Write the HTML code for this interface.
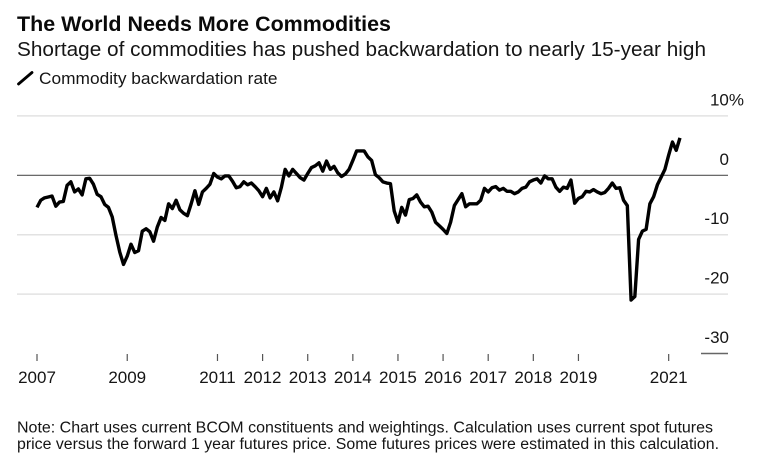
<!DOCTYPE html>
<html lang="en">
<head>
<meta charset="utf-8">
<title>The World Needs More Commodities</title>
<style>
html,body{margin:0;padding:0;background:#fff;width:758px;height:461px;overflow:hidden}
svg{display:block;font-family:"Liberation Sans",sans-serif}
text{fill:#151515}
</style>
</head>
<body>
<svg id="chart" xmlns="http://www.w3.org/2000/svg" width="758" height="461" viewBox="0 0 758 461">
  <rect x="0" y="0" width="758" height="461" fill="#fff"/>
  <text x="17" y="31" font-size="21.5" font-weight="700" textLength="374" lengthAdjust="spacingAndGlyphs" style="fill:#0a0a0a">The World Needs More Commodities</text>
  <text x="17" y="56" font-size="20" textLength="689" lengthAdjust="spacingAndGlyphs">Shortage of commodities has pushed backwardation to nearly 15-year high</text>
  <line x1="18.5" y1="84" x2="32" y2="72.5" stroke="#000" stroke-width="2.8" stroke-linecap="round"/>
  <text x="39" y="84" font-size="17" textLength="238.500" lengthAdjust="spacingAndGlyphs">Commodity backwardation rate</text>
  <g id="grid"></g>
  <g id="yLabels"></g>
  <g id="xAxis"></g>
  <path id="series" fill="none" stroke="#000" stroke-width="3.4" stroke-linejoin="round" stroke-linecap="butt"/>
  <text x="17" y="432.500" font-size="15.5" textLength="696" lengthAdjust="spacingAndGlyphs">Note: Chart uses current BCOM constituents and weightings. Calculation uses current spot futures</text>
  <text x="17" y="449" font-size="15.5" textLength="702" lengthAdjust="spacingAndGlyphs">price versus the forward 1 year futures price. Some futures prices were estimated in this calculation.</text>
</svg>
<script>
const startYear = 2007;
const xTickYears = [2007, 2009, 2011, 2012, 2013, 2014, 2015, 2016, 2017, 2018, 2019, 2021];
const yTickValues = [10, 0, -10, -20, -30];
const yTickLabels = ['10%', '0', '-10', '-20', '-30'];
// Monthly backwardation rate (%), Jan 2007 onward
const backwardation = [
  -5.4,-4.2,-3.8,-3.65,-3.5,-5.2,-4.5,-4.4,-1.7,-1.1,-2.8,-2.3,
  -3.3,-0.6,-0.5,-1.5,-3.2,-3.6,-4.9,-5.4,-7.0,-10.1,-12.9,-15.0,
  -13.6,-11.6,-13.0,-12.7,-9.4,-9.0,-9.5,-11.1,-8.7,-7.1,-7.6,-4.8,
  -5.6,-4.2,-5.8,-6.4,-6.8,-4.8,-2.6,-4.9,-2.8,-2.2,-1.5,0.3,
  -0.3,-0.6,-0.1,-0.1,-1.0,-2.1,-1.9,-1.1,-1.6,-1.3,-1.9,
  -2.6,-3.6,-2.2,-3.8,-2.8,-4.3,-2.0,1.0,-0.1,1.0,0.3,-0.4,
  -0.8,0.3,1.3,1.6,2.1,0.7,2.4,1.0,1.5,0.4,-0.2,0.2,
  1.0,2.5,4.1,4.1,4.1,3.1,2.5,0.1,-0.4,-1.1,-1.3,-1.4,
  -6.0,-7.9,-5.4,-6.7,-4.1,-3.9,-3.3,-4.5,-5.3,-5.2,-6.2,-7.9,
  -8.5,-9.1,-9.8,-7.9,-5.1,-4.1,-3.1,-5.3,-4.8,-4.8,-4.8,-4.2,
  -2.2,-2.8,-2.1,-1.9,-2.5,-2.2,-2.7,-2.7,-3.1,-2.8,-2.2,-2.0,
  -1.1,-0.8,-0.6,-1.3,-0.1,-0.6,-0.6,-2.0,-2.7,-2.0,-2.2,-0.8,
  -4.7,-3.9,-3.6,-2.7,-2.8,-2.4,-2.8,-3.1,-2.9,-2.2,-1.3,-2.2,
  -2.1,-4.2,-5.1,-21.0,-20.4,-10.8,-9.4,-9.1,-4.8,-3.6,-1.6,-0.3,
  1.0,3.4,5.6,4.2,6.3
];

const svgNS = 'http://www.w3.org/2000/svg';
function xScale(year) { return 37 + (year - startYear) * 45.12; }
function yScale(value) { return 175.3 - value * 5.94; }

const grid = document.getElementById('grid');
const yLabels = document.getElementById('yLabels');
yTickValues.forEach(function (v, i) {
  const line = document.createElementNS(svgNS, 'line');
  
  
  const isZero = v === 0;
  const isBase = i === yTickValues.length - 1;
  line.setAttribute('x1', isBase ? 701 : 17);
  line.setAttribute('x2', 728);
  line.setAttribute('y1', yScale(v));
  line.setAttribute('y2', yScale(v));
  line.setAttribute('stroke', isZero ? '#555' : (isBase ? '#666' : '#e2e2e2'));
  line.setAttribute('stroke-width', isZero ? 1.2 : 1.5);
  grid.appendChild(line);

  const label = document.createElementNS(svgNS, 'text');
  
  
  label.setAttribute('x', v === 10 ? 744 : 729);
  label.setAttribute('y', yScale(v) - 10.5);
  label.setAttribute('text-anchor', 'end');
  label.setAttribute('font-size', '17');
  label.textContent = yTickLabels[i];
  yLabels.appendChild(label);
});

const xAxis = document.getElementById('xAxis');
xTickYears.forEach(function (yr) {
  const tick = document.createElementNS(svgNS, 'line');
  
  
  tick.setAttribute('x1', xScale(yr));
  tick.setAttribute('x2', xScale(yr));
  tick.setAttribute('y1', 354);
  tick.setAttribute('y2', 361);
  tick.setAttribute('stroke', '#555');
  tick.setAttribute('stroke-width', 1.2);
  xAxis.appendChild(tick);

  const label = document.createElementNS(svgNS, 'text');
  
  
  label.setAttribute('x', xScale(yr));
  label.setAttribute('y', 383);
  label.setAttribute('text-anchor', 'middle');
  label.setAttribute('font-size', '17');
  label.textContent = String(yr);
  xAxis.appendChild(label);
});

const d = backwardation.map(function (v, i) {
  return (i ? 'L' : 'M') + xScale(startYear + i / 12).toFixed(2) + ' ' + yScale(v).toFixed(2);
}).join(' ');
document.getElementById('series').setAttribute('d', d);
</script>
</body>
</html>
